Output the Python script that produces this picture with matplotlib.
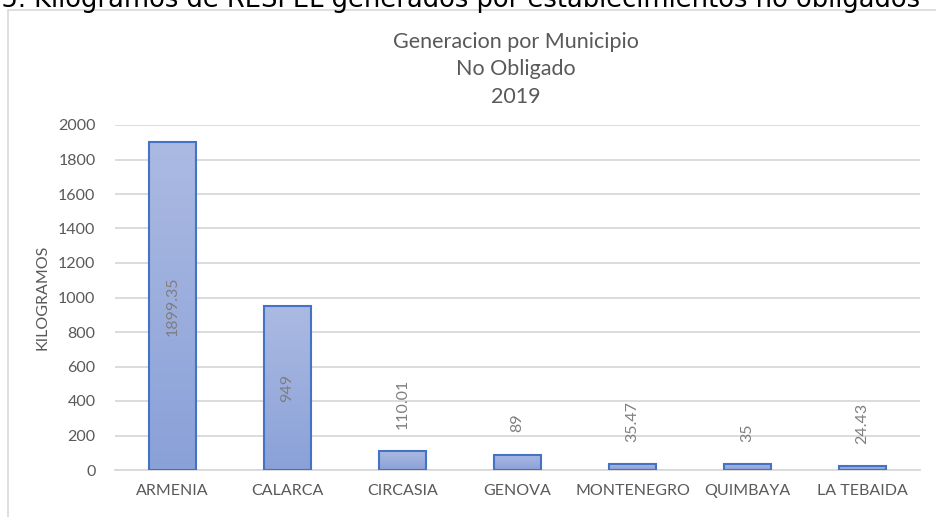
import numpy as np
import matplotlib
matplotlib.use('agg')
import matplotlib.pyplot as plt
from matplotlib.patches import Rectangle
from matplotlib.colors import LinearSegmentedColormap

municipios = ['ARMENIA', 'CALARCA', 'CIRCASIA', 'GENOVA', 'MONTENEGRO', 'QUIMBAYA', 'LA TEBAIDA']
kilos = [1899.35, 949, 110.01, 89, 35.47, 35, 24.43]
etiquetas = ['1899.35', '949', '110.01', '89', '35.47', '35', '24.43']

gris = '#595959'
grad = LinearSegmentedColormap.from_list('barra', ['#8aa1d8', '#abbae2'])

fig = plt.figure(figsize=(9.37, 5.17), dpi=100)

# encabezado del documento, recortado arriba
fig.text(920 / 937, 1 - 7 / 517, '15. Kilogramos de RESPEL generados por establecimientos no obligados',
         ha='right', va='baseline', fontsize=18.5, family='DejaVu Sans', color='black')

# marco del grafico
fig.patches.append(Rectangle((8 / 937, -0.1), 2, (517 - 10) / 517 + 0.1, transform=fig.transFigure,
                             fill=False, edgecolor='#d9d9d9', linewidth=1.2))

fig.text(0.551, 1 - 32 / 517, 'Generacion por Municipio\nNo Obligado\n2019', ha='center', va='top',
         fontsize=15.5, family='Lato', color=gris, linespacing=1.46)

ax = fig.add_axes([115 / 937, 1 - 470 / 517, 805 / 937, 345 / 517])
x = np.arange(len(municipios))
ancho = 0.41
grad_img = np.linspace(0, 1, 256).reshape(-1, 1)
for xi, v in zip(x, kilos):
    ax.imshow(grad_img, cmap=grad, aspect='auto', origin='lower',
              extent=[xi - ancho / 2, xi + ancho / 2, 0, v], zorder=2)
ax.bar(x, kilos, width=ancho, facecolor='none', edgecolor='#4472c4', linewidth=1.5, zorder=3)

for xi, v, t in zip(x, kilos, etiquetas):
    if v > 500:
        ax.text(xi, v / 2, t, rotation=90, ha='center', va='center', fontsize=11.5,
                family='Lato', color='#7f7f7f', zorder=4)
    else:
        ax.annotate(t, (xi, v), xytext=(0, 16), textcoords='offset points', rotation=90,
                    ha='center', va='bottom', fontsize=11.5, family='Lato', color='#7f7f7f')

ax.set_xlim(-0.5, len(municipios) - 0.5)
ax.set_ylim(0, 2000)
ax.set_yticks(range(0, 2001, 200))
ax.set_xticks(x)
ax.set_xticklabels(municipios)
ax.grid(axis='y', color='#d9d9d9', linewidth=1.3, zorder=0)
ax.set_axisbelow(True)
for s in ['top', 'right', 'left']:
    ax.spines[s].set_visible(False)
ax.spines['bottom'].set_color('#d9d9d9')
ax.spines['bottom'].set_linewidth(1.3)
ax.tick_params(length=0, labelsize=11.5, labelcolor=gris, pad=10)
ax.tick_params(axis='y', pad=14)
for lab in ax.get_xticklabels() + ax.get_yticklabels():
    lab.set_family('Lato')
ax.set_ylabel('KILOGRAMOS', fontsize=11.5, family='Lato', color=gris, labelpad=6)

fig.savefig('out.png', dpi=100)
